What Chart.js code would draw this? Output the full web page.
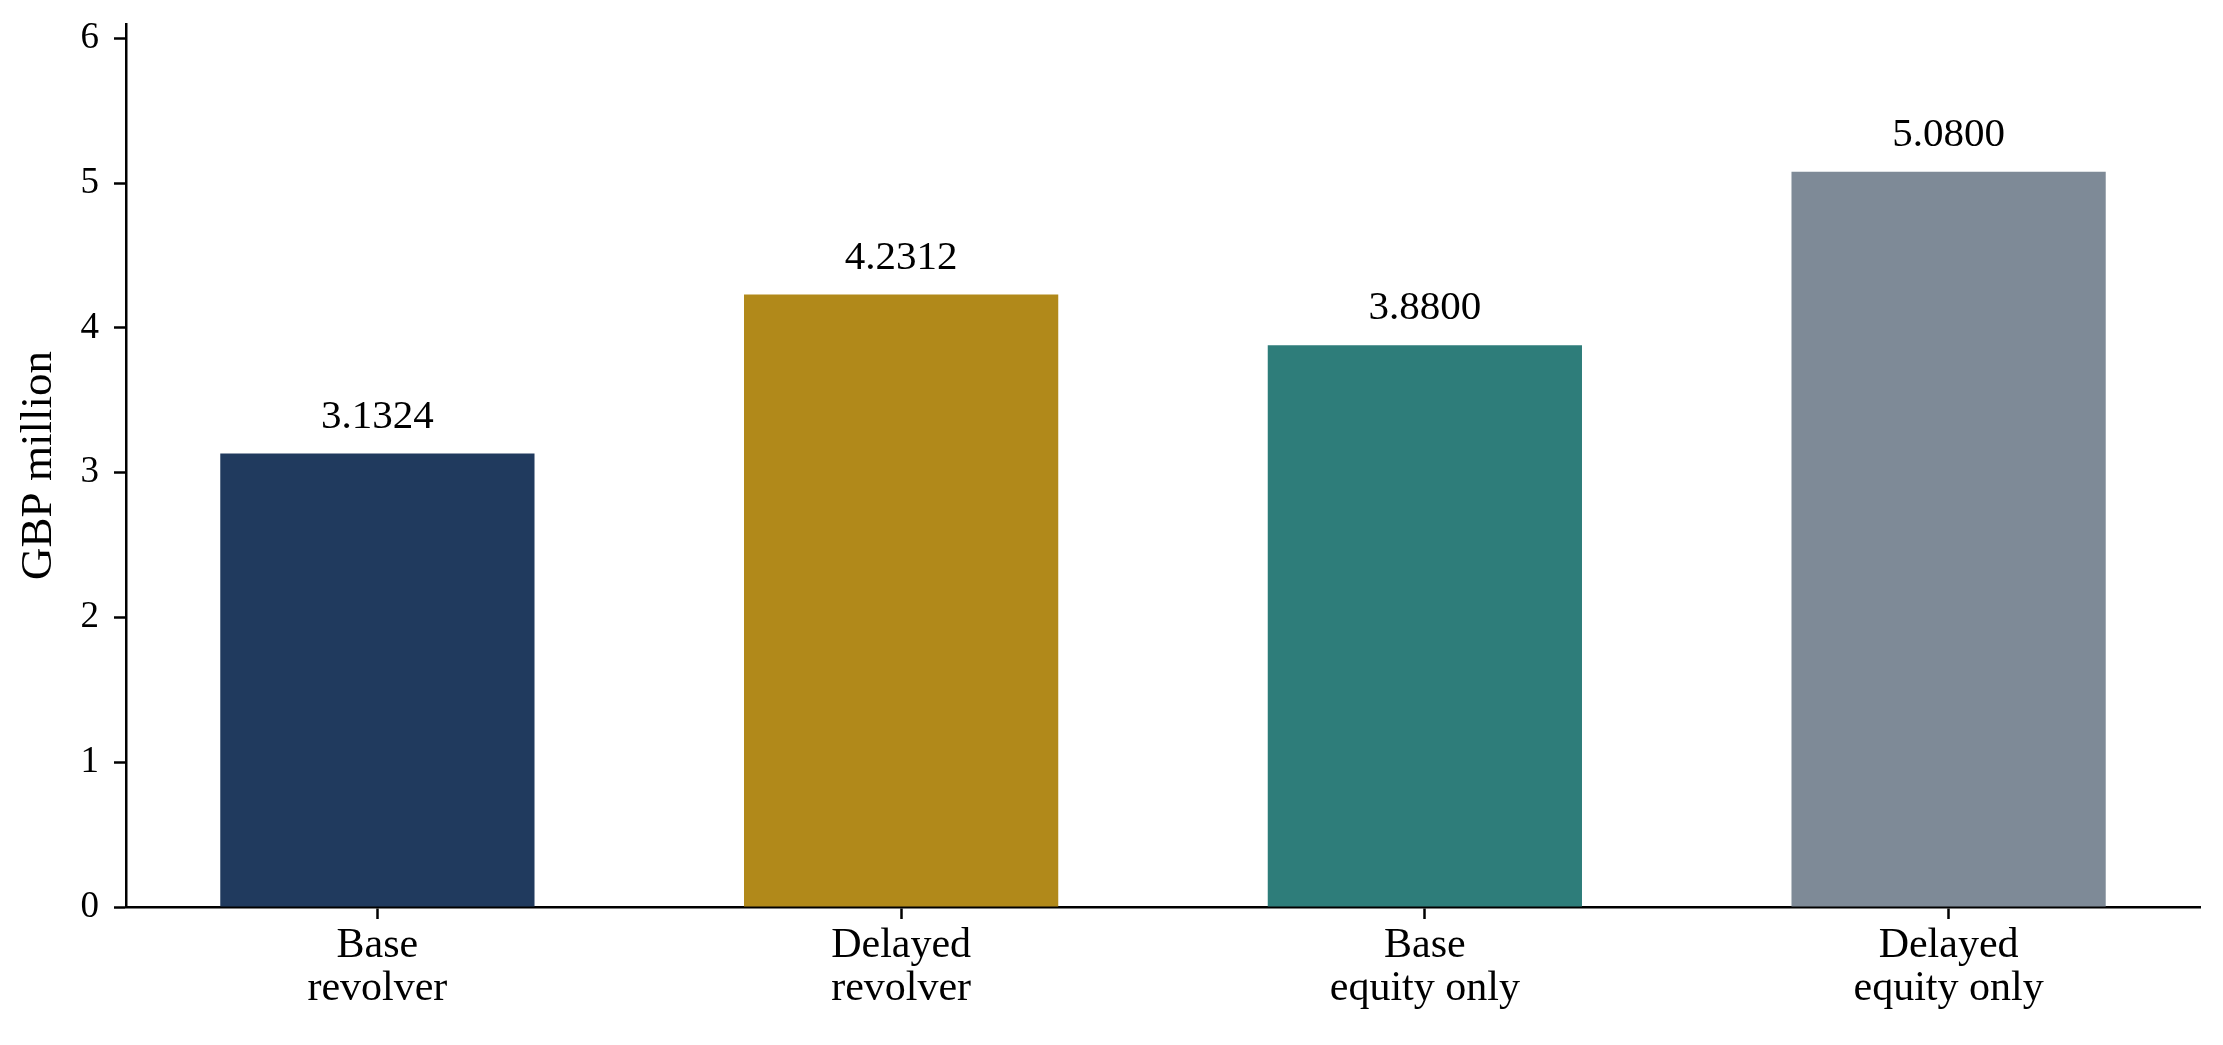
<!DOCTYPE html>
<html>
<head>
<meta charset="utf-8">
<script src="https://cdn.jsdelivr.net/npm/chart.js@4.4.1/dist/chart.umd.min.js"></script>
<style>
  html, body { margin: 0; padding: 0; background: #fff; }
  #wrap { width: 2223px; height: 1045px; position: relative; }
</style>
</head>
<body>
<div id="wrap"><canvas id="chart"></canvas></div>
<script>
// data
const categories = [['Base', 'revolver'], ['Delayed', 'revolver'], ['Base', 'equity only'], ['Delayed', 'equity only']];
const values = [3.1324, 4.2312, 3.8800, 5.0800];
const barColors = ['#203a5e', '#b1891a', '#2e7d7a', '#7e8a97'];
const yTicks = [0, 1, 2, 3, 4, 5, 6];

const serif = 'Liberation Serif';

// value labels above bars
const valueLabels = {
  id: 'valueLabels',
  afterDatasetsDraw(chart) {
    const ctx = chart.ctx;
    const meta = chart.getDatasetMeta(0);
    ctx.save();
    ctx.font = '41px "' + serif + '"';
    ctx.fillStyle = '#000';
    ctx.textAlign = 'center';
    ctx.textBaseline = 'alphabetic';
    meta.data.forEach(function(bar, i) {
      ctx.fillText(values[i].toFixed(4), bar.x, bar.y - 26);
    });
    ctx.restore();
  }
};

document.addEventListener("DOMContentLoaded", function() {
  const ctx = document.getElementById('chart').getContext('2d');

  new Chart(ctx, {
    type: 'bar',
    data: {
      datasets: [{
        data: values.map(function(v, i) { return {x: i, y: v}; }),
        backgroundColor: barColors,
        borderWidth: 0,
        barPercentage: 0.6,
        categoryPercentage: 1
      }]
    },
    options: {
      responsive: true,
      maintainAspectRatio: false,
      animation: false,
      layout: { padding: { top: 24, right: 23, left: 0, bottom: 0 } },
      plugins: {
        legend: { display: false },
        tooltip: { enabled: false }
      },
      scales: {
        x: {
          type: 'linear',
          min: -0.48,
          max: 3.48,
          offset: false,
          afterFit: function(s) { s.height = 138; s.paddingLeft = 0; s.paddingRight = 0; },
          afterBuildTicks: function(s) { s.ticks = categories.map(function(c, i) { return {value: i}; }); },
          grid: { display: true, drawOnChartArea: false, drawTicks: true, tickLength: 12, tickWidth: 2.5, tickColor: '#000', offset: false },
          border: { display: true, color: '#000', width: 2.5 },
          ticks: {
            autoSkip: false,
            maxRotation: 0,
            padding: 5,
            color: '#000',
            font: { family: serif, size: 42, lineHeight: 1.03 },
            callback: function(v) { return categories[v]; }
          }
        },
        y: {
          min: 0,
          max: 6.1,
          afterFit: function(s) { s.width = 126; s.paddingTop = 0; s.paddingBottom = 0; },
          afterBuildTicks: function(s) { s.ticks = yTicks.map(function(t) { return {value: t}; }); },
          grid: { display: true, drawOnChartArea: false, drawTicks: true, tickLength: 12, tickWidth: 2.5, tickColor: '#000' },
          border: { display: true, color: '#000', width: 2.5 },
          ticks: {
            padding: 15,
            color: '#000',
            font: { family: serif, size: 37 }
          },
          title: {
            display: true,
            text: 'GBP million',
            color: '#000',
            font: { family: serif, size: 45 },
            padding: { top: 12, bottom: 0 }
          }
        }
      }
    },
    plugins: [valueLabels]
  });
});
</script>
</body>
</html>
